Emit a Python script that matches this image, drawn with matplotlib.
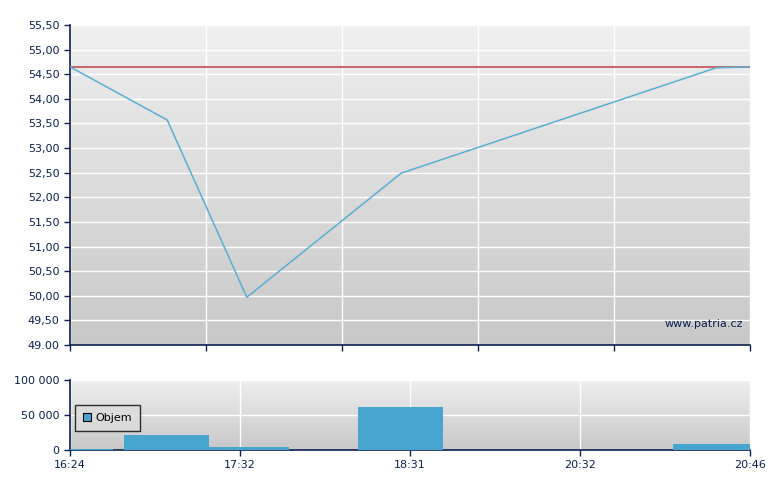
import numpy as np
import matplotlib.pyplot as plt

# Price line (x on a 0-100 position scale, same as the chart's time axis)
price_x = [0, 14.3, 26.0, 48.7, 95.0, 100]
price_y = [54.65, 53.57, 49.97, 52.49, 54.63, 54.65]
prev_close = 54.65

price_ticks = [49.0, 49.5, 50.0, 50.5, 51.0, 51.5, 52.0, 52.5, 53.0, 53.5, 54.0, 54.5, 55.0, 55.5]
price_labels = ["49.00", "49,50", "50,00", "50,50", "51,00", "51,50", "52,00",
                "52,50", "53,00", "53,50", "54,00", "54,50", "55,00", "55,50"]

# Volume bars: left edge, width, volume
vol_left = [0, 7.9, 20.4, 42.4, 88.7]
vol_width = [6.3, 12.5, 11.8, 12.5, 11.3]
vol_vals = [1500, 21500, 4500, 61500, 8500]

time_labels = ["16:24", "17:32", "18:31", "20:32", "20:46"]
vol_ticks = [0, 50000, 100000]
vol_labels = ["0", "50 000", "100 000"]

NAVY = "#0a2050"
LINE = "#5aaed6"
BAR = "#46a6cf"

fig = plt.figure(figsize=(7.8, 4.9), dpi=100)
ax1 = fig.add_axes([70 / 780, 1 - 345 / 490, 680 / 780, 320 / 490])
ax2 = fig.add_axes([70 / 780, 1 - 450 / 490, 680 / 780, 70 / 490])

grad = np.linspace(0, 1, 256).reshape(-1, 1)
for ax in (ax1, ax2):
    ax.imshow(grad, extent=[0, 1, 0, 1], transform=ax.transAxes, aspect="auto",
              cmap=plt.matplotlib.colors.LinearSegmentedColormap.from_list(
                  "bg", ["#efefef", "#c8c8c8"]), zorder=0)
    for s in ("top", "right"):
        ax.spines[s].set_visible(False)
    for s in ("left", "bottom"):
        ax.spines[s].set_color(NAVY)
        ax.spines[s].set_linewidth(1.2)
    ax.tick_params(colors=NAVY, labelcolor=NAVY, labelsize=8, length=4, width=1)
    ax.set_xlim(0, 100)

# top chart
ax1.plot(price_x, price_y, color=LINE, lw=1.1, zorder=3)
ax1.axhline(prev_close, color="#c04444", lw=1.1, zorder=2)
ax1.set_ylim(49.0, 55.5)
ax1.set_yticks(price_ticks)
ax1.set_yticklabels(price_labels)
ax1.set_xticks(np.linspace(0, 100, 6))
ax1.set_xticklabels([])
ax1.grid(True, color="white", lw=1, zorder=1)
for gl in ax1.get_xgridlines() + ax1.get_ygridlines():
    gl.set_zorder(1)
ax1.text(0.99, 0.065, "www.patria.cz", transform=ax1.transAxes, ha="right",
         va="center", fontsize=8, color=NAVY, zorder=4)

# bottom chart
ax2.bar(vol_left, vol_vals, width=vol_width, align="edge", color=BAR, label="Objem", zorder=3)
ax2.set_ylim(0, 100000)
ax2.set_yticks(vol_ticks)
ax2.set_yticklabels(vol_labels)
ax2.set_xticks(np.linspace(0, 100, 5))
ax2.set_xticklabels(time_labels)
ax2.grid(True, color="white", lw=1, zorder=1)
for gl in ax2.get_xgridlines() + ax2.get_ygridlines():
    gl.set_zorder(1)
leg = ax2.legend(loc="upper left", bbox_to_anchor=(0.007, 0.64), borderaxespad=0,
                 fontsize=8, frameon=True, fancybox=False, handlelength=0.8,
                 handleheight=0.8, handletextpad=0.4, borderpad=0.7, labelcolor="black")
leg.get_frame().set_edgecolor("black")
leg.get_frame().set_facecolor("#dcdcdc")
leg.get_frame().set_linewidth(1)
for p in leg.get_patches():
    p.set_edgecolor("black")
    p.set_linewidth(0.8)

fig.savefig("out.png", dpi=100)
